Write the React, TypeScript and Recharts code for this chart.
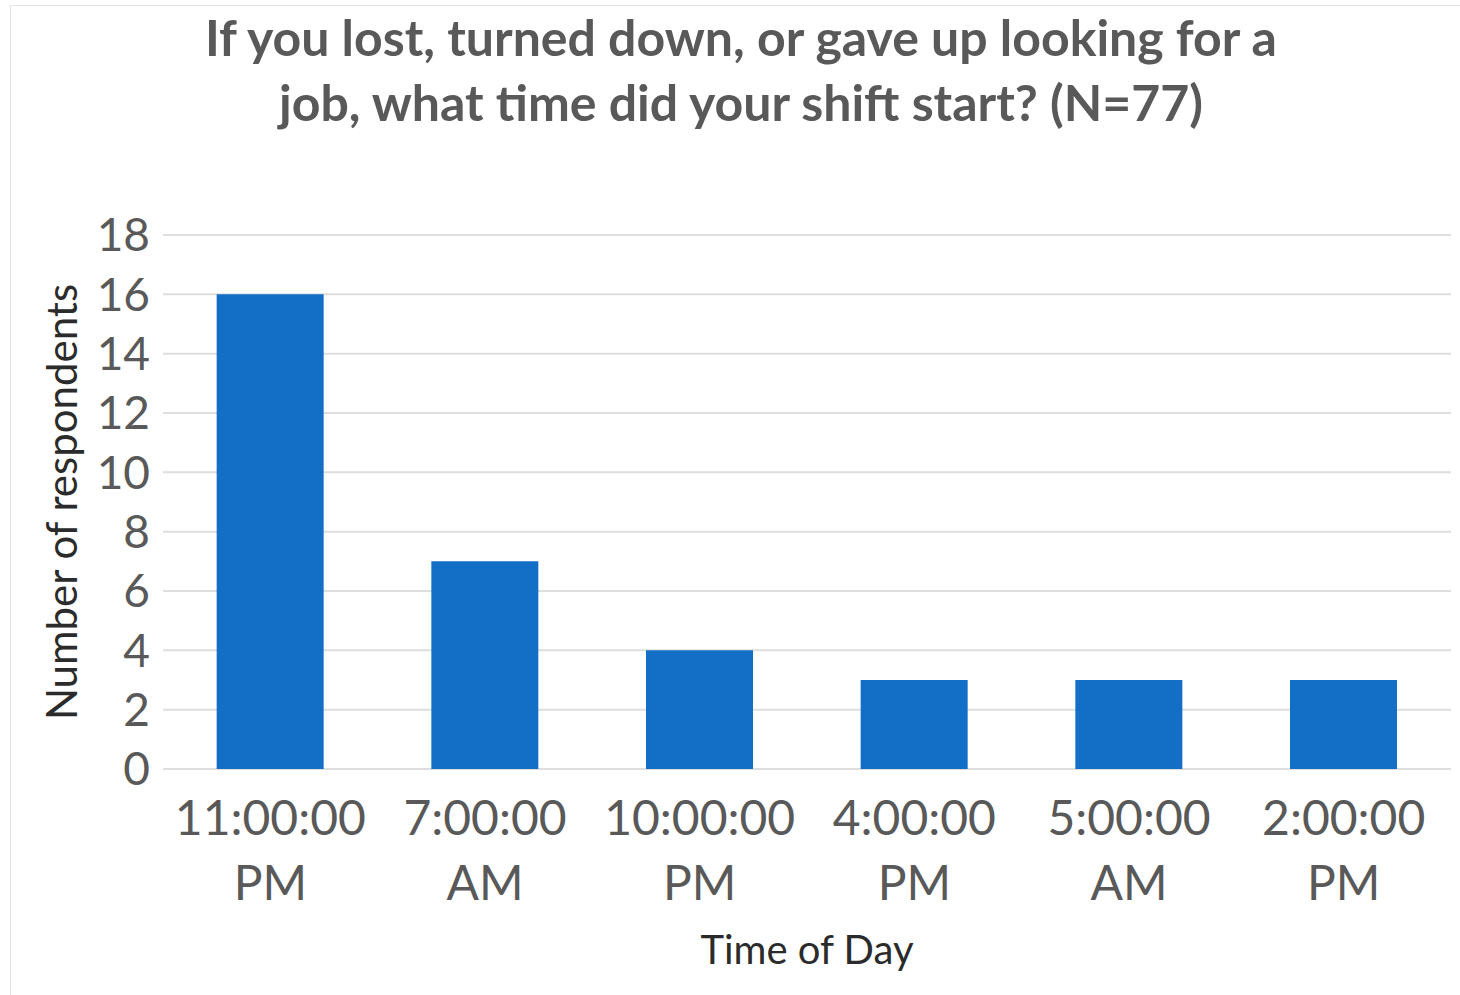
import React from 'react';
import { BarChart, Bar, XAxis, YAxis, CartesianGrid } from 'recharts';

const categories = ['11:00:00 PM', '7:00:00 AM', '10:00:00 PM', '4:00:00 PM', '5:00:00 AM', '2:00:00 PM'];
const respondents = [16, 7, 4, 3, 3, 3];
const yTicks = [0, 2, 4, 6, 8, 10, 12, 14, 16, 18];

const titleLines = ['If you lost, turned down, or gave up looking for a', 'job, what time did your shift start? (N=77)'];

const data = categories.map((time, i) => ({ time, count: respondents[i] }));

const FONT = 'Lato, "Open Sans", sans-serif';

// two-line category labels ("11:00:00" / "PM")
const XTick = (props: any) => {
    const { x, y, payload } = props;
    const [top, bottom] = String(payload.value).split(' ');
    return (
        <text x={x} y={y} textAnchor="middle" fill="#595959" fontSize={48} fontFamily={FONT}>
            <tspan x={x} dy={66}>{top}</tspan>
            <tspan x={x} dy={65}>{bottom}</tspan>
        </text>
    );
};

const YTitle = (props: any) => {
    const { viewBox } = props;
    const cx = 50;
    const cy = viewBox.y + viewBox.height / 2;
    return (
        <text
            x={cx}
            y={cy}
            transform={`rotate(-90, ${cx}, ${cy})`}
            textAnchor="middle"
            dominantBaseline="central"
            fill="#2b2b2b"
            fontSize={42}
            fontFamily={FONT}
        >
            Number of respondents
        </text>
    );
};

const App: React.FC = () => {
    return (
        <div
            style={{
                position: 'absolute',
                left: 10,
                top: 5,
                width: 1450,
                height: 990,
                border: '1px solid #e3e3e3',
                background: '#fff',
            }}
        >
            <div
                style={{
                    position: 'absolute',
                    top: -1,
                    left: 0,
                    width: 1460,
                    textAlign: 'center',
                    fontFamily: FONT,
                    fontWeight: 700,
                    fontSize: 50,
                    lineHeight: '65px',
                    color: '#595959',
                    whiteSpace: 'nowrap',
                }}
            >
                {titleLines[0]}
                <br />
                {titleLines[1]}
            </div>
            <BarChart
                width={1450}
                height={990}
                data={data}
                margin={{ top: 229, right: 10, bottom: 0, left: 0 }}
                barCategoryGap="25%"
            >
                <CartesianGrid vertical={false} stroke="#dedede" strokeWidth={2} />
                <XAxis
                    dataKey="time"
                    height={227}
                    axisLine={false}
                    tickLine={false}
                    tickSize={0}
                    tickMargin={0}
                    interval={0}
                    tick={<XTick />}
                    label={{
                        value: 'Time of Day',
                        position: 'insideBottom',
                        offset: 32,
                        fill: '#2b2b2b',
                        fontSize: 40,
                        fontFamily: FONT,
                    }}
                />
                <YAxis
                    width={152}
                    domain={[0, 18]}
                    ticks={yTicks}
                    axisLine={false}
                    tickLine={false}
                    tickSize={0}
                    tickMargin={13}
                    tick={{ fill: '#595959', fontSize: 46, fontFamily: FONT }}
                    label={YTitle}
                />
                <Bar dataKey="count" fill="#136fc6" isAnimationActive={false} />
            </BarChart>
        </div>
    );
};

export default App;
